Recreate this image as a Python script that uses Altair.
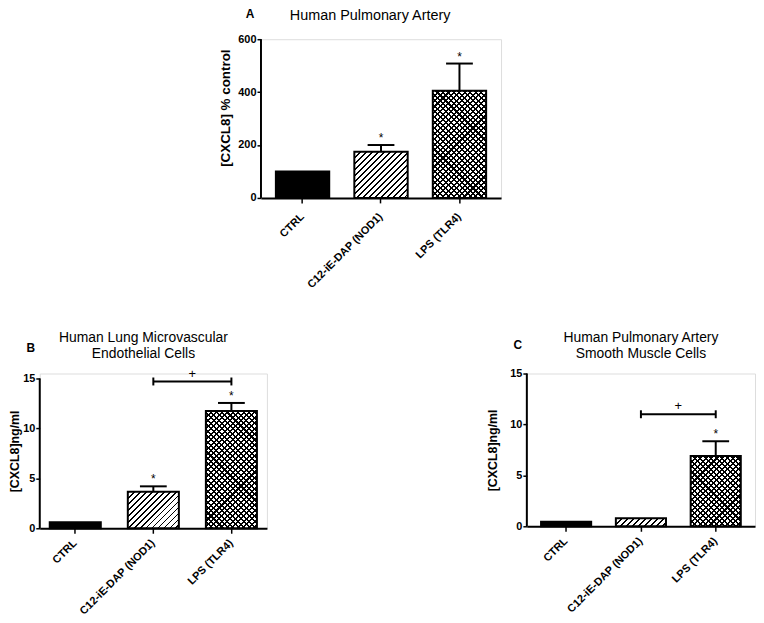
import altair as alt
import pandas as pd

groups = ["CTRL", "C12-iE-DAP (NOD1)", "LPS (TLR4)"]

# Panel A
a_title = ["Human Pulmonary Artery"]
a_letter = "A"
a_ytitle = "[CXCL8] % control"
a_mean = [100, 175, 405]
a_sem = [0, 25, 103]
a_star = [0, 1, 1]
a_yticks = [0, 200, 400, 600]

# Panel B
b_title = ["Human Lung Microvascular", "Endothelial Cells"]
b_letter = "B"
b_ytitle = "[CXCL8]ng/ml"
b_mean = [0.6, 3.65, 11.75]
b_sem = [0, 0.55, 0.8]
b_star = [0, 1, 1]
b_yticks = [0, 5, 10, 15]
b_bracket = ["C12-iE-DAP (NOD1)", "LPS (TLR4)"]
b_bracket_y = 14.7

# Panel C
c_title = ["Human Pulmonary Artery", "Smooth Muscle Cells"]
c_letter = "C"
c_ytitle = "[CXCL8]ng/ml"
c_mean = [0.45, 0.8, 6.9]
c_sem = [0, 0, 1.45]
c_star = [0, 0, 1]
c_yticks = [0, 5, 10, 15]
c_bracket = ["C12-iE-DAP (NOD1)", "LPS (TLR4)"]
c_bracket_y = 11.0

FONT = "Liberation Sans"


def stripes(w, h, kind, bg, period, frac):
    c = (w + h) / (w * w + h * h)
    a, b = w * c, h * c
    if kind == "/":
        x1, y1, x2, y2 = 0, 0, a, b
    else:
        x1, y1, x2, y2 = 0, 1, a, 1 - b
    p = period / (w + h)
    stops = []
    t = 0.0
    while t < 1.0:
        e = min(t + frac * p, 1.0)
        n = min(t + p, 1.0)
        stops.append({"offset": round(t, 5), "color": "black"})
        stops.append({"offset": round(e, 5), "color": "black"})
        if e < 1.0:
            stops.append({"offset": round(e, 5), "color": bg})
            stops.append({"offset": round(n, 5), "color": bg})
        t += p
    return alt.LinearGradient(
        gradient="linear", x1=x1, y1=y1, x2=x2, y2=y2,
        stops=[alt.GradientStop(offset=s["offset"], color=s["color"]) for s in stops],
    )


def panel(mean, sem, star, yticks, ytitle, title, letter, width, height,
          pi, po, title_dx, title_y, letter_xy, ytitle_pad, ytitle_size,
          title_size, xlabel_pad, extra_top=0, bracket=None, bracket_y=None,
          ytitle_xy=None):
    # extra_top: empty room (px) kept above the last tick inside the plot
    ymax = yticks[-1] * (height + extra_top) / height
    ph = height + extra_top
    df = pd.DataFrame({"group": groups, "mean": mean, "sem": sem, "star": star})
    df["upper"] = df["mean"] + df["sem"]
    step = width / (len(groups) - pi + 2 * po)
    bw = step * (1 - pi)
    hpx = [m / ymax * ph for m in mean]

    xaxis = alt.Axis(
        title=None, labelAngle=-45, labelAlign="right", labelBaseline="middle",
        labelPadding=xlabel_pad, labelFont=FONT, labelFontWeight="bold", labelFontSize=11,
        labelColor="black", domainColor="black", domainWidth=2, tickColor="black",
        tickWidth=1.5, tickSize=5, grid=False, labelOverlap=False,
    )
    ykw = dict(
        values=yticks, grid=False, domain=False,
        tickColor="black", tickWidth=1.5, tickSize=4, labelPadding=1,
        labelFont=FONT, labelFontWeight="bold", labelFontSize=11, labelColor="black",
        titleFont=FONT, titleFontWeight="bold", titleFontSize=ytitle_size,
        titleColor="black", titlePadding=ytitle_pad,
    )
    if ytitle_xy is not None:
        ykw["titleX"] = ytitle_xy[0]
        ykw["titleY"] = ytitle_xy[1]
    yaxis = alt.Axis(**ykw)
    yscale = alt.Scale(domain=[0, ymax], nice=False, zero=True)

    def xenc():
        return alt.X("group:N", sort=groups, title=None,
                     scale=alt.Scale(domain=groups, paddingInner=pi, paddingOuter=po),
                     axis=xaxis)

    def yenc(field):
        return alt.Y(f"{field}:Q", title=ytitle, scale=yscale, axis=yaxis)

    base = alt.Chart(df)
    one = pd.DataFrame({"t": [letter]})
    layers = [
        # y axis line, from first to last tick
        alt.Chart(one).mark_rule(color="black", strokeWidth=2).encode(
            x=alt.value(0),
            y=alt.Y(datum=yticks[0], type="quantitative", title=ytitle, scale=yscale, axis=yaxis),
            y2=alt.Y2(datum=yticks[-1])),
        base.transform_filter(alt.datum.group == groups[0]).mark_bar(
            fill="black", stroke="black", strokeWidth=2).encode(x=xenc(), y=yenc("mean")),
        base.transform_filter(alt.datum.group == groups[1]).mark_bar(
            fill=stripes(bw, max(hpx[1], 1), "/", "white", 6.0, 0.3),
            stroke="black", strokeWidth=2).encode(x=xenc(), y=yenc("mean")),
        base.transform_filter(alt.datum.group == groups[2]).mark_bar(
            fill=stripes(bw, max(hpx[2], 1), "\\", "white", 5.5, 0.38)
        ).encode(x=xenc(), y=yenc("mean")),
        base.transform_filter(alt.datum.group == groups[2]).mark_bar(
            fill=stripes(bw, max(hpx[2], 1), "/", "rgba(0,0,0,0)", 5.5, 0.38),
            stroke="black", strokeWidth=2).encode(x=xenc(), y=yenc("mean")),
        base.transform_filter(alt.datum.sem > 0).mark_rule(
            color="black", strokeWidth=2).encode(x=xenc(), y=yenc("mean"), y2="upper:Q"),
        base.transform_filter(alt.datum.sem > 0).mark_tick(
            color="black", size=27, thickness=2, opacity=1).encode(x=xenc(), y=yenc("upper")),
        base.transform_filter(alt.datum.star == 1).mark_text(
            text="*", fontSize=12, dy=-3, baseline="alphabetic", font=FONT,
            color="black").encode(x=xenc(), y=yenc("upper")),
    ]
    if bracket is not None:
        bdf = pd.DataFrame({"group": bracket, "by": [bracket_y] * len(bracket)})
        bc = alt.Chart(bdf)
        layers += [
            bc.mark_line(color="black", strokeWidth=2).encode(x=xenc(), y=yenc("by")),
            bc.mark_point(shape="M0,-1L0,1", size=64, color="black", strokeWidth=2,
                          opacity=1, filled=False).encode(x=xenc(), y=yenc("by")),
            alt.Chart(bdf.iloc[[1]]).mark_text(
                text="+", fontSize=13, dx=-step / 2, dy=-4, baseline="alphabetic",
                font=FONT, fontWeight="normal", color="black").encode(x=xenc(), y=yenc("by")),
        ]
    layers.append(
        alt.Chart(one).mark_text(
            fontWeight="bold", fontSize=12, align="center", baseline="middle",
            font=FONT, color="black").encode(
            x=alt.value(letter_xy[0]), y=alt.value(letter_xy[1]), text="t:N")
    )
    layers.append(
        alt.Chart(one).mark_text(
            text=title, fontSize=title_size, fontWeight="normal", font=FONT, color="black",
            align="center", baseline="top", lineHeight=16.5).encode(
            x=alt.value(width / 2 + title_dx), y=alt.value(title_y))
    )
    return alt.layer(*layers).properties(width=width, height=ph)


A = panel(a_mean, a_sem, a_star, a_yticks, a_ytitle, a_title, a_letter,
          242, 160, 0.32, 0.19, -11, -30, (-11, -25), 6, 13.5, 14.5, 12,
          ytitle_xy=(-29, 69))
B = panel(b_mean, b_sem, b_star, b_yticks, b_ytitle, b_title, b_letter,
          229, 151, 0.346, 0.128, -10, -43, (-9, -26), 1, 12.5, 14, 8,
          extra_top=5, bracket=b_bracket, bracket_y=b_bracket_y)
C = panel(c_mean, c_sem, c_star, c_yticks, c_ytitle, c_title, c_letter,
          230, 154, 0.33, 0.19, 0, -43, (-9, -29), 10, 12.5, 14, 8,
          bracket=c_bracket, bracket_y=c_bracket_y)

spacer = alt.Chart(pd.DataFrame({"v": [0]})).mark_text(text=" ", opacity=0).encode(
    x=alt.value(0), y=alt.value(0)).properties(
    width=179, height=10,
    view=alt.ViewBackground(stroke="transparent", strokeWidth=0, fill="transparent"))

top = alt.hconcat(spacer, A, spacing=0)
bottom = alt.hconcat(B, C, spacing=220)
chart = alt.vconcat(top, bottom, spacing=39).properties(
    padding={"top": -3, "left": 0, "right": 0, "bottom": 0}
).configure_view(strokeWidth=0, stroke="transparent").configure(background="white")

chart.save("out.html", embed_options={"renderer": "svg", "actions": False})
